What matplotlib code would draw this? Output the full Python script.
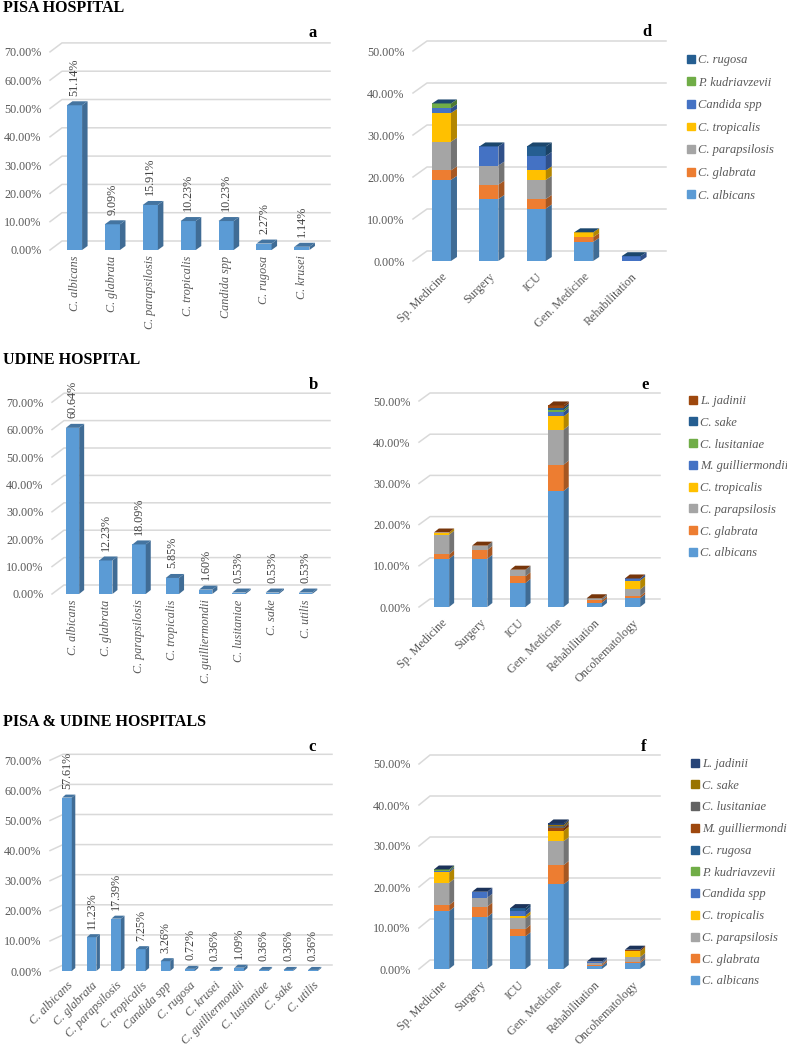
import matplotlib
matplotlib.use('Agg')
import matplotlib.pyplot as plt
from matplotlib.patches import Polygon, Patch
from matplotlib import colors as mcolors

plt.rcParams['font.family'] = ['Liberation Serif', 'DejaVu Serif']

W, H = 787, 1046

# ---- single-hospital species distributions (a, b, c) ----
pisa_species = ['C. albicans', 'C. glabrata', 'C. parapsilosis', 'C. tropicalis',
                'Candida spp', 'C. rugosa', 'C. krusei']
pisa_pct = [51.14, 9.09, 15.91, 10.23, 10.23, 2.27, 1.14]

udine_species = ['C. albicans', 'C. glabrata', 'C. parapsilosis', 'C. tropicalis',
                 'C. guilliermondii', 'C. lusitaniae', 'C. sake', 'C. utilis']
udine_pct = [60.64, 12.23, 18.09, 5.85, 1.60, 0.53, 0.53, 0.53]

all_species = ['C. albicans', 'C. glabrata', 'C. parapsilosis', 'C. tropicalis',
               'Candida spp', 'C. rugosa', 'C. krusei', 'C. guilliermondii',
               'C. lusitaniae', 'C. sake', 'C. utilis']
all_pct = [57.61, 11.23, 17.39, 7.25, 3.26, 0.72, 0.36, 1.09, 0.36, 0.36, 0.36]

# ---- ward distributions (d, e, f) ----
pisa_wards = ['Sp. Medicine', 'Surgery', 'ICU', 'Gen. Medicine', 'Rehabilitation']
pisa_ward_series = ['C. albicans', 'C. glabrata', 'C. parapsilosis', 'C. tropicalis',
                    'Candida spp', 'P. kudriavzevii', 'C. rugosa']
pisa_ward_pct = [
    [19.32, 14.77, 12.50, 4.55, 0],
    [2.27, 3.41, 2.27, 1.14, 0],
    [6.82, 4.55, 4.55, 0, 0],
    [6.82, 0, 2.27, 1.14, 0],
    [1.14, 4.55, 3.41, 0, 1.14],
    [1.14, 0, 0, 0, 0],
    [0, 0, 2.27, 0, 0],
]
pisa_ward_colors = ['#5B9BD5', '#ED7D31', '#A5A5A5', '#FFC000', '#4472C4', '#70AD47', '#255E91']

wards6 = ['Sp. Medicine', 'Surgery', 'ICU', 'Gen. Medicine', 'Rehabilitation', 'Oncohematology']
udine_ward_series = ['C. albicans', 'C. glabrata', 'C. parapsilosis', 'C. tropicalis',
                     'M. guilliermondii', 'C. lusitaniae', 'C. sake', 'L. jadinii']
udine_ward_pct = [
    [11.70, 11.70, 5.85, 28.19, 1.06, 2.13],
    [1.06, 2.13, 1.60, 6.38, 0.53, 0.53],
    [4.79, 1.06, 1.60, 8.51, 0.53, 1.60],
    [0.53, 0, 0, 3.19, 0, 2.13],
    [0, 0, 0, 1.06, 0, 0.53],
    [0, 0, 0, 0.53, 0, 0],
    [0, 0, 0, 0.53, 0, 0],
    [0, 0, 0, 0.53, 0, 0],
]
udine_ward_colors = ['#5B9BD5', '#ED7D31', '#A5A5A5', '#FFC000', '#4472C4', '#70AD47',
                     '#255E91', '#9E480E']

all_ward_series = ['C. albicans', 'C. glabrata', 'C. parapsilosis', 'C. tropicalis',
                   'Candida spp', 'P. kudriavzevii', 'C. rugosa', 'M. guilliermondii',
                   'C. lusitaniae', 'C. sake', 'L. jadinii']
all_ward_pct = [
    [14.13, 12.68, 7.97, 20.65, 0.72, 1.45],
    [1.45, 2.54, 1.81, 4.71, 0.36, 0.36],
    [5.43, 2.17, 2.54, 5.80, 0.36, 1.09],
    [2.54, 0, 0.72, 2.54, 0, 1.45],
    [0.36, 1.45, 1.09, 0, 0.36, 0],
    [0.36, 0, 0, 0, 0, 0],
    [0, 0, 0.72, 0, 0, 0],
    [0, 0, 0, 0.72, 0, 0.36],
    [0, 0, 0, 0.36, 0, 0],
    [0, 0, 0, 0.36, 0, 0],
    [0, 0, 0, 0.36, 0, 0],
]
all_ward_colors = ['#5B9BD5', '#ED7D31', '#A5A5A5', '#FFC000', '#4472C4', '#70AD47',
                   '#255E91', '#9E480E', '#636363', '#997300', '#264478']

TXT = '#595959'
GRID = '#D9D9D9'
FS = 8.7

fig = plt.figure(figsize=(W / 100, H / 100), dpi=100)


def shade(c, k=0.7):
    r, g, b = mcolors.to_rgb(c)
    return (r * k, g * k, b * k)


def panel(x0, x1, y0, top, cat0, step, ppu, ymax_tick, ytick_step, wall=(12, 9)):
    ax = fig.add_axes([x0 / W, 1 - y0 / H, (x1 - x0) / W, (y0 - top) / H])
    xl, xr = (x0 - cat0) / step, (x1 - cat0) / step
    ax.set_xlim(xl, xr)
    ax.set_ylim(0, (y0 - top) / ppu)
    for s in ax.spines.values():
        s.set_visible(False)
    ax.patch.set_visible(False)
    ticks = list(range(0, ymax_tick + 1, ytick_step))
    for v in ticks:
        wy = v + wall[1] / ppu
        ax.plot([xl, xl + wall[0] / step, xr], [v, wy, wy], color=GRID, lw=1.1,
                zorder=1, clip_on=False)
    ax.set_yticks(ticks, [f'{v:.2f}%' for v in ticks])
    ax.tick_params(axis='y', length=0, pad=6, labelsize=FS, labelcolor=TXT)
    ax.tick_params(axis='x', length=0)
    ax.step_px = step
    ax.ppu = ppu
    return ax


def box3d(ax, x, bottom, h, w, color, sdx, sdy):
    dx, dy = sdx / ax.step_px, sdy / ax.ppu
    if h > 0:
        ax.bar(x, h, w, bottom, color=color, linewidth=0, zorder=3)
        r = x + w / 2
        ax.add_patch(Polygon([(r, bottom), (r + dx, bottom + dy), (r + dx, bottom + h + dy),
                              (r, bottom + h)], closed=True, color=shade(color), lw=0, zorder=3))
    return dx, dy


def top3d(ax, x, top, w, color, sdx, sdy):
    dx, dy = sdx / ax.step_px, sdy / ax.ppu
    l, r = x - w / 2, x + w / 2
    ax.add_patch(Polygon([(l, top), (l + dx, top + dy), (r + dx, top + dy), (r, top)],
                         closed=True, color=shade(color, 0.75), lw=0, zorder=4))


def simple_panel(ax, names, vals, w, sdx, sdy, rot):
    for i, v in enumerate(vals):
        box3d(ax, i, 0, v, w, '#5B9BD5', sdx, sdy)
        top3d(ax, i, v, w, '#5B9BD5', sdx, sdy)
        ax.annotate(f'{v:.2f}%', (i, v + sdy / ax.ppu), xytext=(0, 4), textcoords='offset points',
                    rotation=90, ha='center', va='bottom', fontsize=FS, color='#404040')
    if rot == 90:
        ax.set_xticks(range(len(names)), names, rotation=90, fontsize=FS, color=TXT,
                      fontstyle='italic')
        ax.tick_params(axis='x', pad=4)
    else:
        ax.set_xticks(range(len(names)), names, rotation=rot, ha='right', rotation_mode='anchor',
                      fontsize=FS, color=TXT, fontstyle='italic')
        ax.tick_params(axis='x', pad=6)


def stacked_panel(ax, wards, series, vals, cols, w, sdx, sdy, leg_xy, spacing):
    for j in range(len(wards)):
        bottom = 0
        for k in range(len(series)):
            h = vals[k][j]
            box3d(ax, j, bottom, h, w, cols[k], sdx, sdy)
            bottom += h
        top3d(ax, j, bottom, w, cols[-1], sdx, sdy)
    ax.set_xticks(range(len(wards)), wards, rotation=45, ha='right', rotation_mode='anchor',
                  fontsize=FS, color=TXT)
    ax.tick_params(axis='x', pad=7)
    handles = [Patch(color=c) for c in cols][::-1]
    leg = ax.legend(handles, series[::-1], loc='upper left',
                    bbox_to_anchor=(leg_xy[0] / W, 1 - leg_xy[1] / H),
                    bbox_transform=fig.transFigure, frameon=False,
                    prop={'style': 'italic', 'size': 9}, handlelength=0.6, handleheight=0.6,
                    handletextpad=0.3, labelspacing=spacing, borderpad=0, borderaxespad=0)
    for t in leg.get_texts():
        t.set_color(TXT)


# ---- section titles ----
for ytxt, title in [(8, 'PISA HOSPITAL'), (360, 'UDINE HOSPITAL'), (722, 'PISA & UDINE HOSPITALS')]:
    fig.text(3 / W, 1 - ytxt / H, title, ha='left', va='center', fontsize=11.5, weight='bold')

# ---- a ----
ax_a = panel(50, 330, 250, 43, 74.5, 37.9, 2.83, 70, 10)
simple_panel(ax_a, pisa_species, pisa_pct, 0.4, 5.5, 4, 90)

# ---- b ----
ax_b = panel(52, 330, 594, 393, 72.5, 33.3, 2.74, 70, 10)
simple_panel(ax_b, udine_species, udine_pct, 0.4, 5, 4, 90)

# ---- c ----
ax_c = panel(50, 332, 971, 754, 67, 24.6, 3.01, 70, 10, wall=(13, 6))
simple_panel(ax_c, all_species, all_pct, 0.39, 3.5, 3, 45)

# ---- d ----
ax_d = panel(413, 666, 261, 41, 441.5, 47.4, 4.2, 50, 10, wall=(14, 10))
stacked_panel(ax_d, pisa_wards, pisa_ward_series, pisa_ward_pct, pisa_ward_colors,
              0.4, 6, 4, (687, 54), 0.85)

# ---- e ----
ax_e = panel(419, 660, 607, 393, 441.5, 38.2, 4.12, 50, 10, wall=(11, 8))
stacked_panel(ax_e, wards6, udine_ward_series, udine_ward_pct, udine_ward_colors,
              0.4, 5, 4, (689, 395), 0.78)

# ---- f ----
ax_f = panel(419, 660, 969, 755, 441.5, 38.2, 4.1, 50, 10, wall=(11, 9))
stacked_panel(ax_f, wards6, all_ward_series, all_ward_pct, all_ward_colors,
              0.4, 5, 4, (691, 758), 0.78)

# ---- panel letters ----
for (lx, ly, s) in [(313, 33, 'a'), (313, 385, 'b'), (312, 747, 'c'),
                    (647, 32, 'd'), (645, 385, 'e'), (644, 747, 'f')]:
    fig.text(lx / W, 1 - ly / H, s, ha='center', va='center', fontsize=12, weight='bold')

fig.savefig('out.png', dpi=100)
